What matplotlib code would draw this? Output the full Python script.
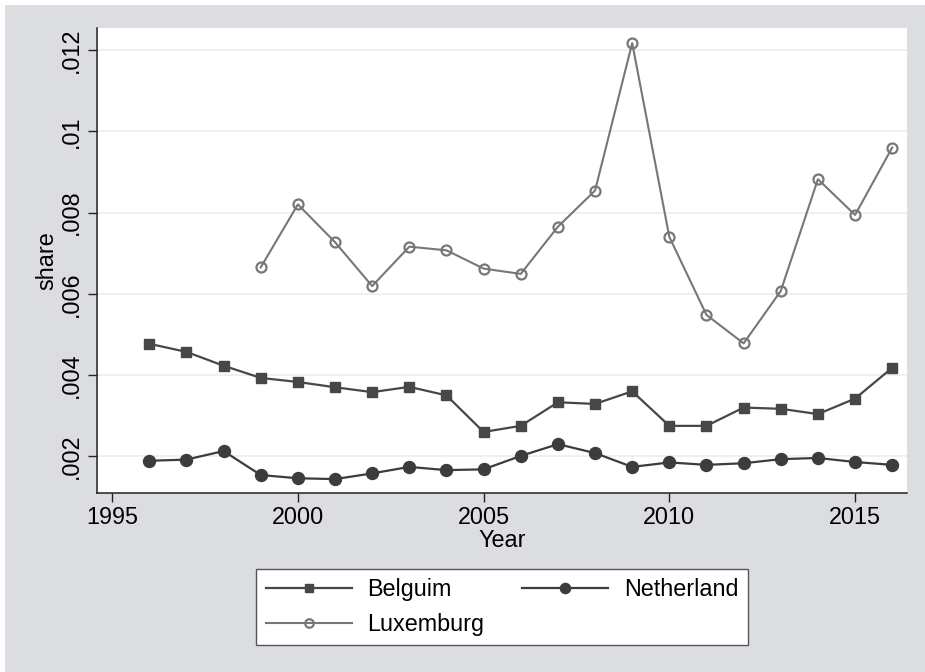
import matplotlib
matplotlib.use("Agg")
import matplotlib.pyplot as plt
from matplotlib.patches import Rectangle

plt.rcParams['font.family'] = ['Liberation Sans', 'DejaVu Sans']

# Data
years = list(range(1996, 2017))
belgium = [0.00477, 0.00457, 0.00423, 0.00393, 0.00383, 0.00370, 0.00358,
           0.00371, 0.00350, 0.00260, 0.00275, 0.00333, 0.00329, 0.00360,
           0.00275, 0.00275, 0.00320, 0.00317, 0.00304, 0.00342, 0.00418]
netherland = [0.00189, 0.00192, 0.00213, 0.00154, 0.00146, 0.00144, 0.00158,
              0.00174, 0.00166, 0.00168, 0.00201, 0.00230, 0.00208, 0.00174,
              0.00185, 0.00179, 0.00183, 0.00193, 0.00196, 0.00186, 0.00179]
lux_years = list(range(1999, 2017))
luxemburg = [0.00665, 0.00820, 0.00727, 0.00619, 0.00716, 0.00707, 0.00662,
             0.00649, 0.00765, 0.00854, 0.01217, 0.00740, 0.00548, 0.00478,
             0.00607, 0.00882, 0.00794, 0.00960]

xticks = [1995, 2000, 2005, 2010, 2015]
yticks = [0.002, 0.004, 0.006, 0.008, 0.010, 0.012]
ytick_labels = ['.002', '.004', '.006', '.008', '.01', '.012']

FS = 16.8
bg = '#dcdde0'

fig = plt.figure(figsize=(9.25, 6.72), dpi=100)
fig.patch.set_facecolor('white')
# outer graph region
fig.patches.append(Rectangle((5 / 925, 0), 1, 1 - 5 / 672, transform=fig.transFigure,
                             facecolor=bg, edgecolor='none', zorder=-10))

ax = fig.add_axes([97.3 / 925, 1 - 492.7 / 672, (906.7 - 97.3) / 925, (492.7 - 28.3) / 672])
ax.set_facecolor('white')

for t in yticks:
    ax.axhline(t, color='#eeeeee', lw=1.2, zorder=0)

lb, = ax.plot(years, belgium, color='#474747', lw=1.6, marker='s', ms=6.8,
              mfc='#474747', mec='#474747', label='Belguim', zorder=3)
ln, = ax.plot(years, netherland, color='#3c3c3c', lw=1.6, marker='o', ms=8.6,
              mfc='#3c3c3c', mec='#3c3c3c', label='Netherland', zorder=3)
ll, = ax.plot(lux_years, luxemburg, color='#777777', lw=1.5, marker='o', ms=7.2,
              mfc='none', mec='#777777', mew=1.6, label='Luxemburg', zorder=3)

ax.set_xlim(1994.6, 2016.39)
ax.set_ylim(0.001105, 0.012534)

ax.set_xticks(xticks)
ax.set_xticklabels([str(x) for x in xticks], fontsize=FS)
ax.set_yticks(yticks)
ax.set_yticklabels(ytick_labels, fontsize=FS, rotation=90, va='center')

ax.tick_params(axis='both', direction='out', length=6.5, width=1, color='#222222')
ax.tick_params(axis='x', pad=3)
ax.tick_params(axis='y', pad=4)

for s in ['top', 'right']:
    ax.spines[s].set_visible(False)
for s in ['left', 'bottom']:
    ax.spines[s].set_color('#222222')
    ax.spines[s].set_linewidth(1.1)

ax.set_xlabel('Year', fontsize=FS, labelpad=0)
ax.set_ylabel('share', fontsize=FS, labelpad=1)

# legend filled row by row: Belguim, Netherland / Luxemburg
handles = [lb, ll, ln]
labels = [h.get_label() for h in handles]
leg = fig.legend(handles, labels, ncol=2, loc='center',
                 bbox_to_anchor=(502 / 925, 1 - 607.2 / 672),
                 fontsize=FS, handlelength=3.7, handletextpad=0.67,
                 columnspacing=1.6, borderpad=0.4, labelspacing=0.5,
                 frameon=True, fancybox=False, markerscale=0.85)
leg.get_frame().set_edgecolor('#555555')
leg.get_frame().set_linewidth(1.0)
leg.get_frame().set_facecolor('white')
leg.get_frame().set_alpha(1)

fig.savefig('out.png', dpi=100, facecolor=fig.get_facecolor())
